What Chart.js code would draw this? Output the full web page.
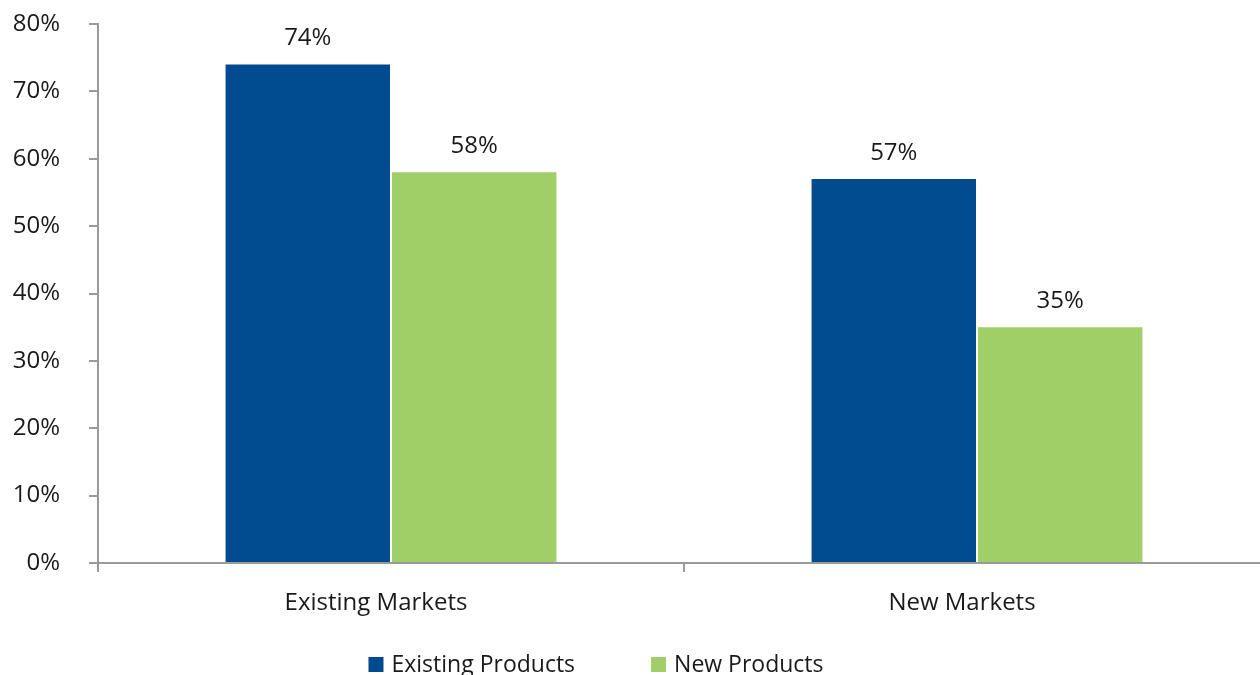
<!DOCTYPE html>
<html>
<head>
<meta charset="utf-8">
<script src="https://cdn.jsdelivr.net/npm/chart.js@4.4.1/dist/chart.umd.min.js"></script>
<style>
  html, body { margin: 0; padding: 0; background: #fff; overflow: hidden; }
  #wrap { width: 1272px; height: 675px; }
</style>
</head>
<body>
<div id="wrap"><canvas id="graph" width="1272" height="675"></canvas></div>
<script>
var categories = ["Existing Markets", "New Markets"];
var seriesNames = ["Existing Products", "New Products"];
var existingProducts = [74, 57];
var newProducts = [58, 35];
var yTicks = [0, 10, 20, 30, 40, 50, 60, 70, 80];

var BLUE = "rgb(0,74,143)";
var GREEN = "rgb(160,206,103)";
var FONT = "'Open Sans', sans-serif";
var TEXT = "#1a1a1a";
var AXIS = "#9a9a9a";

Chart.defaults.font.family = FONT;
Chart.defaults.font.size = 24;
Chart.defaults.color = TEXT;

// value labels above each bar
var valueLabels = {
    id: "valueLabels",
    afterDatasetsDraw: function(chart) {
        var ctx = chart.ctx;
        ctx.save();
        ctx.font = "24px " + FONT;
        ctx.fillStyle = TEXT;
        ctx.textAlign = "center";
        ctx.textBaseline = "middle";
        chart.data.datasets.forEach(function(ds, i) {
            chart.getDatasetMeta(i).data.forEach(function(bar, j) {
                ctx.fillText(ds.data[j] + "%", bar.x, bar.y - 26);
            });
        });
        ctx.restore();
    }
};

// legend row along the bottom edge
var bottomLegend = {
    id: "bottomLegend",
    afterDraw: function(chart) {
        var ctx = chart.ctx;
        var box = 15, gap = 8, spacing = 76;
        ctx.save();
        ctx.font = "23px " + FONT;
        ctx.textBaseline = "middle";
        ctx.textAlign = "left";
        var total = 0;
        chart.data.datasets.forEach(function(ds, i) {
            total += box + gap + ctx.measureText(ds.label).width;
            if (i > 0) total += spacing;
        });
        var x = 596 - total / 2;
        var y = 665;
        chart.data.datasets.forEach(function(ds) {
            ctx.fillStyle = ds.backgroundColor;
            ctx.fillRect(x, y - 8, box, box);
            x += box + gap;
            ctx.fillStyle = TEXT;
            ctx.fillText(ds.label, x, y);
            x += ctx.measureText(ds.label).width + spacing;
        });
        ctx.restore();
    }
};

var chart = new Chart(document.getElementById("graph").getContext("2d"), {
    type: "bar",
    data: {
        labels: categories,
        datasets: [
            { label: seriesNames[0], data: existingProducts, backgroundColor: BLUE },
            { label: seriesNames[1], data: newProducts, backgroundColor: GREEN }
        ]
    },
    options: {
        responsive: false,
        animation: false,
        layout: { padding: { top: 24, right: 2, bottom: 0, left: 0 } },
        categoryPercentage: 0.568,
        barPercentage: 0.988,
        plugins: {
            legend: { display: false },
            tooltip: { enabled: false }
        },
        scales: {
            x: {
                grid: {
                    offset: true,
                    drawOnChartArea: false,
                    drawTicks: true,
                    tickLength: 9,
                    color: AXIS,
                    lineWidth: 2
                },
                border: { color: AXIS, width: 2 },
                ticks: { padding: 17, labelOffset: -15, font: { size: 24 }, color: TEXT },
                afterFit: function(s) {
                    s.height = 112;
                    s.paddingLeft = 0;
                    s.paddingRight = 0;
                }
            },
            y: {
                min: 0,
                max: 80,
                afterBuildTicks: function(s) {
                    s.ticks = yTicks.map(function(v) { return { value: v }; });
                },
                grid: {
                    drawOnChartArea: false,
                    drawTicks: true,
                    tickLength: 9,
                    color: AXIS,
                    lineWidth: 2
                },
                border: { color: AXIS, width: 2 },
                ticks: {
                    padding: 29,
                    font: { size: 24 },
                    color: TEXT,
                    callback: function(v) { return v + "%"; }
                },
                afterFit: function(s) {
                    s.width = 98;
                    s.paddingTop = 0;
                    s.paddingBottom = 0;
                }
            }
        }
    },
    plugins: [valueLabels, bottomLegend]
});
</script>
</body>
</html>
